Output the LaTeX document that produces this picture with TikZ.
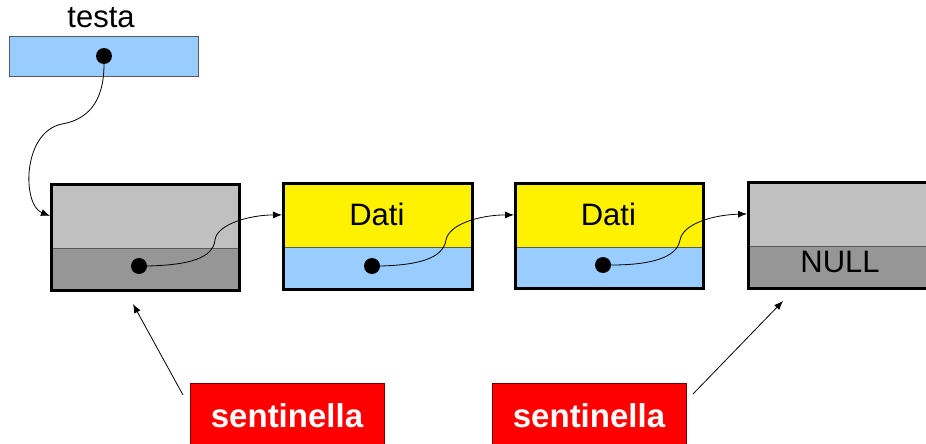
\documentclass[tikz,border=0pt]{standalone}
\usepackage{fontspec}
\setmainfont{Liberation Sans}
\usetikzlibrary{arrows.meta}
\definecolor{lblue}{RGB}{153,204,255}
\definecolor{lgray}{RGB}{192,192,192}
\definecolor{dgray}{RGB}{150,150,150}
\definecolor{edge}{RGB}{90,90,90}
\begin{document}
\begin{tikzpicture}[x=1pt,y=-1pt]
\tikzset{
  part/.style={draw=edge, line width=0.8pt, inner sep=0pt, anchor=north west, minimum width=#1},
  frame/.style={draw=black, line width=3pt, inner sep=0pt, anchor=north west},
  dot/.style={circle, fill=black, inner sep=0pt, minimum size=16pt},
  link/.style={-{Latex[length=9pt,width=7pt]}, line width=0.8pt},
  big/.style={font=\fontsize{31}{34}\selectfont},
  sentbox/.style={fill=red, draw=red!45!black, line width=1pt,
    anchor=north west, inner sep=0pt, minimum width=194pt, minimum height=75pt},
  senttext/.style={text=white, font=\bfseries\fontsize{33}{36}\selectfont},
}
\useasboundingbox (0,0) rectangle (926,444);
\clip (0,0) rectangle (926,444);
% testa
\node[big] (testalbl) at (101,18) {testa};
\node[part=189pt, fill=lblue, minimum height=40pt] (tb) at (9,36) {};
\node[dot] (dt) at (104,56) {};
% box 1
\node[part=188pt, fill=lgray, minimum height=65pt] (t1) at (50,183) {};
\node[part=188pt, fill=dgray, minimum height=41pt] (u1) at (50,248) {};
\node[frame, minimum width=188pt, minimum height=106pt] (f1) at (50,183) {};
\node[dot] (d1) at (139,266) {};
% box 2
\node[part=189pt, fill=yellow, minimum height=65pt, big] (t2) at (282,182) {Dati};
\node[part=189pt, fill=lblue, minimum height=41pt] (u2) at (282,247) {};
\node[frame, minimum width=189pt, minimum height=106pt] (f2) at (282,182) {};
\node[dot] (d2) at (372,266) {};
% box 3
\node[part=188pt, fill=yellow, minimum height=65pt, big] (t3) at (514,182) {Dati};
\node[part=188pt, fill=lblue, minimum height=40pt] (u3) at (514,247) {};
\node[frame, minimum width=188pt, minimum height=105pt] (f3) at (514,182) {};
\node[dot] (d3) at (603,265) {};
% box 4
\node[part=200pt, fill=lgray, minimum height=65pt] (t4) at (747,181) {};
\node[part=200pt, fill=dgray, minimum height=41pt] (u4) at (747,246) {};
\node[big] (nulllbl) at (840,262) {NULL};
\node[frame, minimum width=200pt, minimum height=106pt, line width=2.5pt] (f4) at (747,181) {};
% links
\draw[link] (dt.south) .. controls (104,105) and (85,120) .. (62,124)
  .. controls (22,132) and (22,205) .. (t1.west);
\draw[link] (d1.east) .. controls (190,265) and (213,258) .. (215,240)
  .. controls (217,224) and (250,215) .. (t2.west);
\draw[link] (d2.east) .. controls (420,265) and (443,258) .. (446,240)
  .. controls (449,224) and (480,215) .. (t3.west);
\draw[link] (d3.east) .. controls (650,265) and (677,258) .. (680,240)
  .. controls (683,224) and (712,215) .. (t4.west);
% sentinels
\node[sentbox] (s1) at (190,383) {};
\node[senttext] (s1lbl) at (287,416) {sentinella};
\node[sentbox] (s2) at (492,383) {};
\node[senttext] (s2lbl) at (589,416) {sentinella};
\coordinate (a1) at (183,395);
\coordinate (a1e) at (133,304);
\coordinate (a2) at (693,394);
\coordinate (a2e) at (783,301);
\draw[link] (a1) -- (a1e);
\draw[link] (a2) -- (a2e);
\end{tikzpicture}
\end{document}
